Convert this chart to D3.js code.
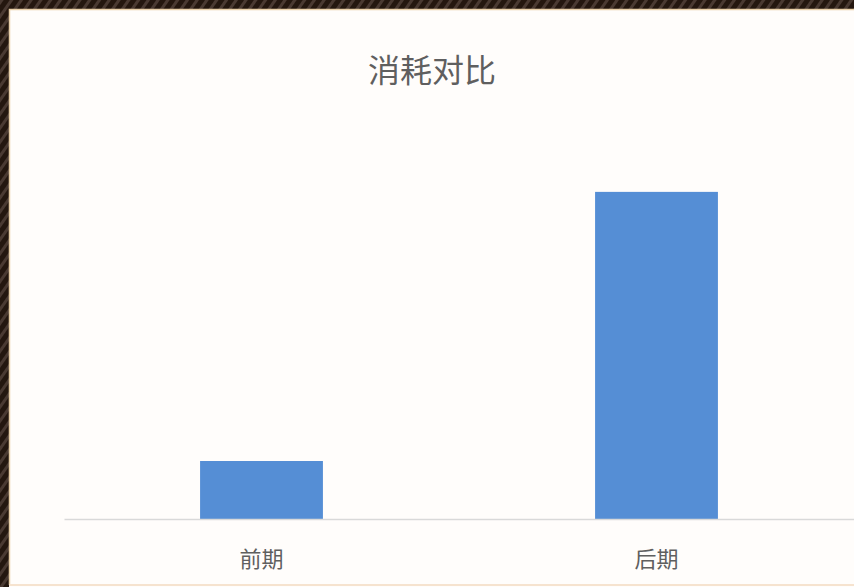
<!DOCTYPE html>
<html>
<head>
<meta charset="utf-8">
<script src="https://cdn.jsdelivr.net/npm/d3@7"></script>
<style>
  html, body { margin: 0; padding: 0; background: #1e1410; }
  #chart { width: 854px; height: 587px; }
  text { font-family: "Noto Sans CJK SC", "Noto Sans", sans-serif; }
</style>
</head>
<body>
<div id="chart"></div>
<script>
const categories = ["前期", "后期"];
const values = [10, 56.4];
const title = "消耗对比";

function drawBar() {
  const container = d3.select("#chart");
  container.selectAll("*").remove();

  const width = 854;
  const height = 587;
  const margin = { top: 171, right: 0, bottom: 68, left: 64 };

  const svg = container
    .append("svg")
    .attr("width", width)
    .attr("height", height);

  // dark striped frame behind the slide
  const defs = svg.append("defs");
  const pat = defs.append("pattern")
    .attr("id", "stripes")
    .attr("width", 8)
    .attr("height", 8)
    .attr("patternUnits", "userSpaceOnUse")
    .attr("patternTransform", "rotate(35)");
  pat.append("rect").attr("width", 8).attr("height", 8).attr("fill", "#24170f");
  pat.append("rect").attr("width", 3).attr("height", 8).attr("fill", "#4a3a32");

  svg.append("rect")
    .attr("width", width)
    .attr("height", height)
    .attr("fill", "url(#stripes)");

  svg.append("rect")
    .attr("x", 9)
    .attr("y", 9)
    .attr("width", width - 9)
    .attr("height", height - 9)
    .attr("fill", "#fffdfb");

  // thin warm edge of the slide
  svg.append("path")
    .attr("d", `M9.5,${height - 2}V9.5H${width}`)
    .attr("fill", "none")
    .attr("stroke", "#e8cfa8")
    .attr("stroke-width", 1.5);
  svg.append("line")
    .attr("x1", 9).attr("x2", width)
    .attr("y1", height - 2).attr("y2", height - 2)
    .attr("stroke", "#f6e3cf")
    .attr("stroke-width", 2);

  svg.append("text")
    .attr("x", 432)
    .attr("y", 82)
    .attr("text-anchor", "middle")
    .attr("font-size", 32)
    .attr("fill", "#5f5f5f")
    .text(title);

  const x = d3.scaleBand()
    .domain(categories)
    .range([margin.left, width - margin.right])
    .paddingInner(0.689)
    .paddingOuter(0.3445);

  const y = d3.scaleLinear()
    .domain([0, 60])
    .range([height - margin.bottom, margin.top]);

  svg.append("g")
    .selectAll("rect")
    .data(values)
    .join("rect")
    .attr("x", (d, i) => x(categories[i]))
    .attr("y", d => y(d))
    .attr("width", x.bandwidth())
    .attr("height", d => y(0) - y(d))
    .attr("fill", "#558ed5");

  const axis = svg.append("g")
    .attr("transform", `translate(0,${y(0)})`)
    .call(d3.axisBottom(x).tickSize(0).tickPadding(32));

  axis.select(".domain")
    .attr("stroke", "#d9d9d9")
    .attr("stroke-width", 1.5);

  axis.selectAll("text")
    .attr("font-size", 22)
    .attr("fill", "#5f5f5f")
    .attr("font-family", "\"Noto Sans CJK SC\", sans-serif");
}

drawBar();
</script>
</body>
</html>
